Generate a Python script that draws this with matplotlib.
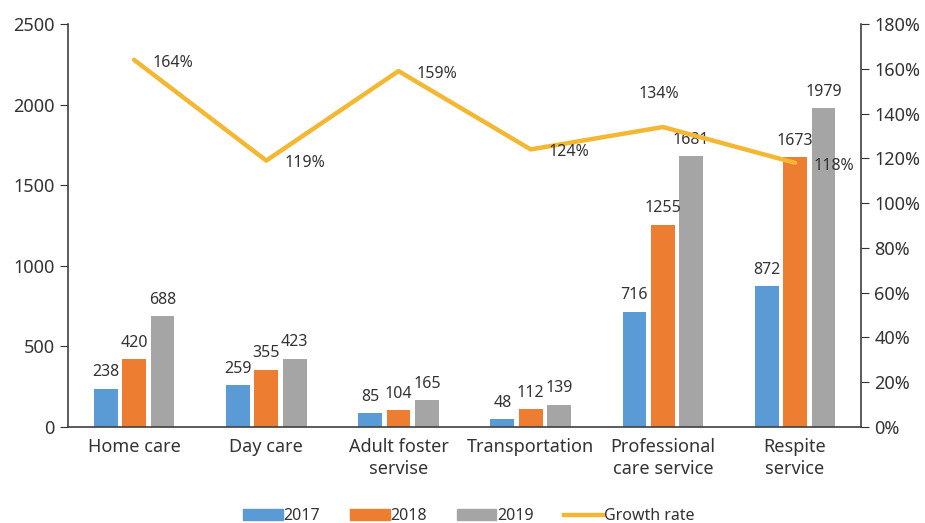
import numpy as np
import matplotlib.pyplot as plt
from matplotlib.lines import Line2D
from matplotlib.patches import Patch

plt.rcParams['font.family'] = ['Noto Sans', 'DejaVu Sans']

categories = ['Home care', 'Day care', 'Adult foster\nservise', 'Transportation',
              'Professional\ncare service', 'Respite\nservice']
y2017 = [238, 259, 85, 48, 716, 872]
y2018 = [420, 355, 104, 112, 1255, 1673]
y2019 = [688, 423, 165, 139, 1681, 1979]
growth = [164, 119, 159, 124, 134, 118]

c17, c18, c19, cg = '#5B9BD5', '#ED7D31', '#A5A5A5', '#F4B731'
txt = '#333333'

fig = plt.figure(figsize=(9.25, 5.23), dpi=100)
ax = fig.add_axes([0.0735, 0.1836, 0.8575, 0.7704])
x = np.arange(len(categories))
w = 0.18
step = 0.215

for vals, off, col in [(y2017, -step, c17), (y2018, 0, c18), (y2019, step, c19)]:
    bars = ax.bar(x + off, vals, w, color=col)
    for b, v in zip(bars, vals):
        ax.annotate(str(v), (b.get_x() + b.get_width() / 2, v), xytext=(0, 6),
                    textcoords='offset points', ha='center', va='bottom',
                    fontsize=11.5, color=txt)

ax.set_xlim(-0.5, len(categories) - 0.5)
ax.set_ylim(0, 2500)
ax.set_yticks(range(0, 2501, 500))
ax.set_xticks(x)
ax.set_xticklabels(categories, fontsize=13, color=txt, linespacing=1.3)
ax.tick_params(axis='x', length=0, pad=8)
ax.tick_params(axis='y', labelsize=13, colors=txt, direction='out', length=6)
for s in ['top', 'right']:
    ax.spines[s].set_visible(False)
for s in ['left', 'bottom']:
    ax.spines[s].set_color('#404040')
    ax.spines[s].set_linewidth(1.2)

ax2 = ax.twinx()
ax2.plot(x, growth, color=cg, lw=3.2, solid_capstyle='round')
ax2.set_ylim(0, 180)
ax2.set_yticks(range(0, 181, 20))
ax2.set_yticklabels([f'{v}%' for v in range(0, 181, 20)])
ax2.tick_params(axis='y', labelsize=13, colors=txt, direction='out', length=6)
for s in ['top', 'left', 'bottom']:
    ax2.spines[s].set_visible(False)
ax2.spines['right'].set_color('#404040')
ax2.spines['right'].set_linewidth(1.2)

for i, g in enumerate(growth):
    if i == 4:
        ax2.annotate(f'{g}%', (i, g), xytext=(-3, 18), textcoords='offset points',
                     ha='center', va='bottom', fontsize=11.5, color=txt)
    else:
        ax2.annotate(f'{g}%', (i, g), xytext=(13, -2), textcoords='offset points',
                     ha='left', va='center', fontsize=11.5, color=txt)

handles = [Patch(color=c17), Patch(color=c18), Patch(color=c19),
           Line2D([], [], color=cg, lw=3.2)]
fig.legend(handles, ['2017', '2018', '2019', 'Growth rate'], loc='lower center',
           bbox_to_anchor=(0.507, -0.03), ncol=4, frameon=False, fontsize=11.5,
           handlelength=2.45, handleheight=0.7, columnspacing=1.9, handletextpad=0.05,
           labelcolor=txt)

fig.savefig('out.png', dpi=100)
